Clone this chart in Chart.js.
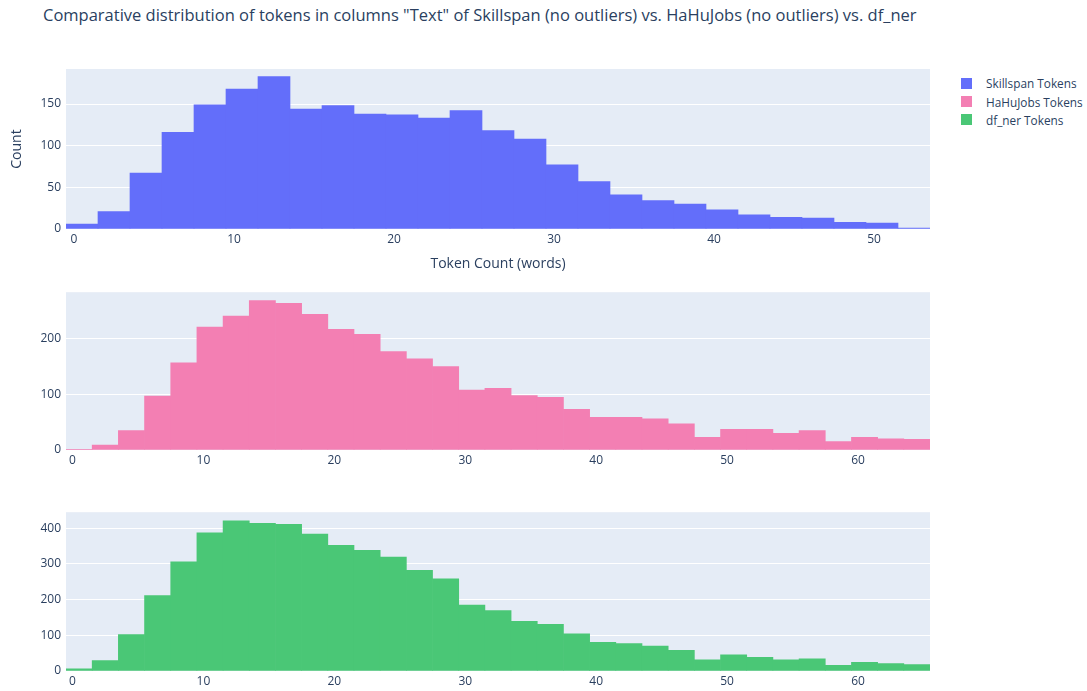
<!DOCTYPE html>
<html>
<head>
<meta charset="utf-8">
<title>Token distribution</title>
<script src="https://cdn.jsdelivr.net/npm/chart.js@4.4.0/dist/chart.umd.min.js"></script>
<style>
    body {
        margin: 0;
        width: 1087px;
        height: 691px;
        position: relative;
        overflow: hidden;
        background: #ffffff;
        font-family: "Open Sans", sans-serif;
        color: #2a3f5f;
    }
    #title {
        position: absolute;
        left: 43px;
        top: 4px;
        font-size: 16.5px;
        line-height: 22px;
        white-space: nowrap;
    }
    .panel {
        position: absolute;
        left: 0;
    }
    #legend {
        position: absolute;
        left: 961px;
        top: 74px;
        font-size: 11.8px;
    }
    .legend-item {
        height: 18.4px;
        display: flex;
        align-items: center;
        white-space: nowrap;
    }
    .legend-swatch {
        width: 11px;
        height: 11px;
        margin-right: 14px;
    }
</style>
</head>
<body>
<div id="title">Comparative distribution of tokens in columns "Text" of Skillspan (no outliers) vs. HaHuJobs (no outliers) vs. df_ner</div>
<canvas id="skillspanChart" class="panel" width="940" height="280" style="top:0px"></canvas>
<canvas id="hahuChart" class="panel" width="940" height="200" style="top:280px"></canvas>
<canvas id="dfNerChart" class="panel" width="940" height="191" style="top:500px"></canvas>
<div id="legend"></div>

<script>
// Series names and colours (legend order)
const seriesNames = ['Skillspan Tokens', 'HaHuJobs Tokens', 'df_ner Tokens'];
const seriesColors = ['#636efa', '#f37fb3', '#4ac776'];

// Histogram bin centres (bin width 2, first bin -0.5..1.5)
const skillspanBins = [0.5, 2.5, 4.5, 6.5, 8.5, 10.5, 12.5, 14.5, 16.5, 18.5,
    20.5, 22.5, 24.5, 26.5, 28.5, 30.5, 32.5, 34.5, 36.5, 38.5,
    40.5, 42.5, 44.5, 46.5, 48.5, 50.5, 52.5];
const jobBins = [0.5, 2.5, 4.5, 6.5, 8.5, 10.5, 12.5, 14.5, 16.5, 18.5,
    20.5, 22.5, 24.5, 26.5, 28.5, 30.5, 32.5, 34.5, 36.5, 38.5,
    40.5, 42.5, 44.5, 46.5, 48.5, 50.5, 52.5, 54.5, 56.5, 58.5,
    60.5, 62.5, 64.5];

// Counts per bin
const skillspanCounts = [6, 21, 67, 116, 149, 168, 183, 144, 148, 138,
    137, 133, 142, 118, 108, 77, 57, 41, 34, 30,
    23, 17, 14, 13, 8, 7, 1];
const hahuCounts = [1, 9, 35, 97, 157, 221, 241, 269, 264, 244,
    217, 208, 177, 164, 150, 108, 111, 98, 95, 73,
    59, 59, 56, 47, 23, 37, 37, 30, 35, 15,
    23, 20, 19];
const dfNerCounts = [6, 29, 102, 211, 306, 387, 421, 414, 411, 384,
    352, 338, 319, 282, 258, 185, 169, 139, 131, 104,
    80, 77, 70, 58, 31, 45, 38, 31, 34, 16,
    24, 21, 18];

// Tick labels
const skillspanXTicks = [0, 10, 20, 30, 40, 50];
const jobXTicks = [0, 10, 20, 30, 40, 50, 60];
const skillspanYTicks = [0, 50, 100, 150];
const hahuYTicks = [0, 100, 200];
const dfNerYTicks = [0, 100, 200, 300, 400];

const TEXT_COLOR = '#2a3f5f';
const FONT = 'Open Sans';

// Paint the plotly-like plot area background
const plotBackground = {
    id: 'plotBackground',
    beforeDraw(chart) {
        const { ctx, chartArea } = chart;
        ctx.save();
        ctx.fillStyle = '#e5ecf6';
        ctx.fillRect(chartArea.left, chartArea.top, chartArea.width, chartArea.height);
        ctx.restore();
    }
};

function buildHistogram(canvasId, cfg) {
    const points = cfg.bins.map((x, i) => ({ x: x, y: cfg.counts[i] }));

    return new Chart(document.getElementById(canvasId), {
        type: 'bar',
        data: {
            datasets: [{
                label: cfg.label,
                data: points,
                backgroundColor: cfg.color,
                borderWidth: 0,
                barPercentage: 1,
                categoryPercentage: 1
            }]
        },
        options: {
            responsive: false,
            animation: false,
            layout: { padding: cfg.padding },
            plugins: {
                legend: { display: false },
                tooltip: { enabled: false }
            },
            scales: {
                x: {
                    type: 'linear',
                    min: cfg.xRange[0],
                    max: cfg.xRange[1],
                    offset: false,
                    grid: { display: false, drawTicks: false, offset: false },
                    border: { display: false },
                    ticks: {
                        color: TEXT_COLOR,
                        font: { family: FONT, size: 12 },
                        padding: 3,
                        maxRotation: 0,
                        autoSkip: false
                    },
                    afterBuildTicks: scale => {
                        scale.ticks = cfg.xTicks.map(v => ({ value: v }));
                    },
                    afterFit: scale => {
                        scale.height = cfg.xAxisHeight;
                    },
                    title: cfg.xTitle || { display: false }
                },
                y: {
                    min: 0,
                    max: cfg.yMax,
                    grid: { color: '#ffffff', lineWidth: 1, drawTicks: false },
                    border: { display: false },
                    ticks: {
                        color: TEXT_COLOR,
                        font: { family: FONT, size: 12 },
                        padding: 5
                    },
                    afterBuildTicks: scale => {
                        scale.ticks = cfg.yTicks.map(v => ({ value: v }));
                    },
                    afterFit: scale => {
                        scale.width = 66;
                    },
                    title: cfg.yTitle || { display: false }
                }
            }
        },
        plugins: [plotBackground]
    });
}

buildHistogram('skillspanChart', {
    label: seriesNames[0],
    color: seriesColors[0],
    bins: skillspanBins,
    counts: skillspanCounts,
    xRange: [-0.5, 53.5],
    xTicks: skillspanXTicks,
    yMax: 192,
    yTicks: skillspanYTicks,
    padding: { top: 69, right: 10, bottom: 6, left: 0 },
    xAxisHeight: 45,
    xTitle: {
        display: true,
        text: 'Token Count (words)',
        color: TEXT_COLOR,
        font: { family: FONT, size: 14 },
        padding: { top: 0, bottom: 1.6 }
    },
    yTitle: {
        display: true,
        text: 'Count',
        color: TEXT_COLOR,
        font: { family: FONT, size: 14 },
        padding: { top: 8.6, bottom: 0 }
    }
});

buildHistogram('hahuChart', {
    label: seriesNames[1],
    color: seriesColors[1],
    bins: jobBins,
    counts: hahuCounts,
    xRange: [-0.5, 65.5],
    xTicks: jobXTicks,
    yMax: 284,
    yTicks: hahuYTicks,
    padding: { top: 10, right: 10, bottom: 5, left: 0 },
    xAxisHeight: 25
});

buildHistogram('dfNerChart', {
    label: seriesNames[2],
    color: seriesColors[2],
    bins: jobBins,
    counts: dfNerCounts,
    xRange: [-0.5, 65.5],
    xTicks: jobXTicks,
    yMax: 445,
    yTicks: dfNerYTicks,
    padding: { top: 10.7, right: 10, bottom: 0, left: 0 },
    xAxisHeight: 20
});

// Shared legend for the three panels
const legend = document.getElementById('legend');
seriesNames.forEach((name, i) => {
    const item = document.createElement('div');
    item.className = 'legend-item';
    const swatch = document.createElement('span');
    swatch.className = 'legend-swatch';
    swatch.style.background = seriesColors[i];
    item.appendChild(swatch);
    item.appendChild(document.createTextNode(name));
    legend.appendChild(item);
});
</script>
</body>
</html>
